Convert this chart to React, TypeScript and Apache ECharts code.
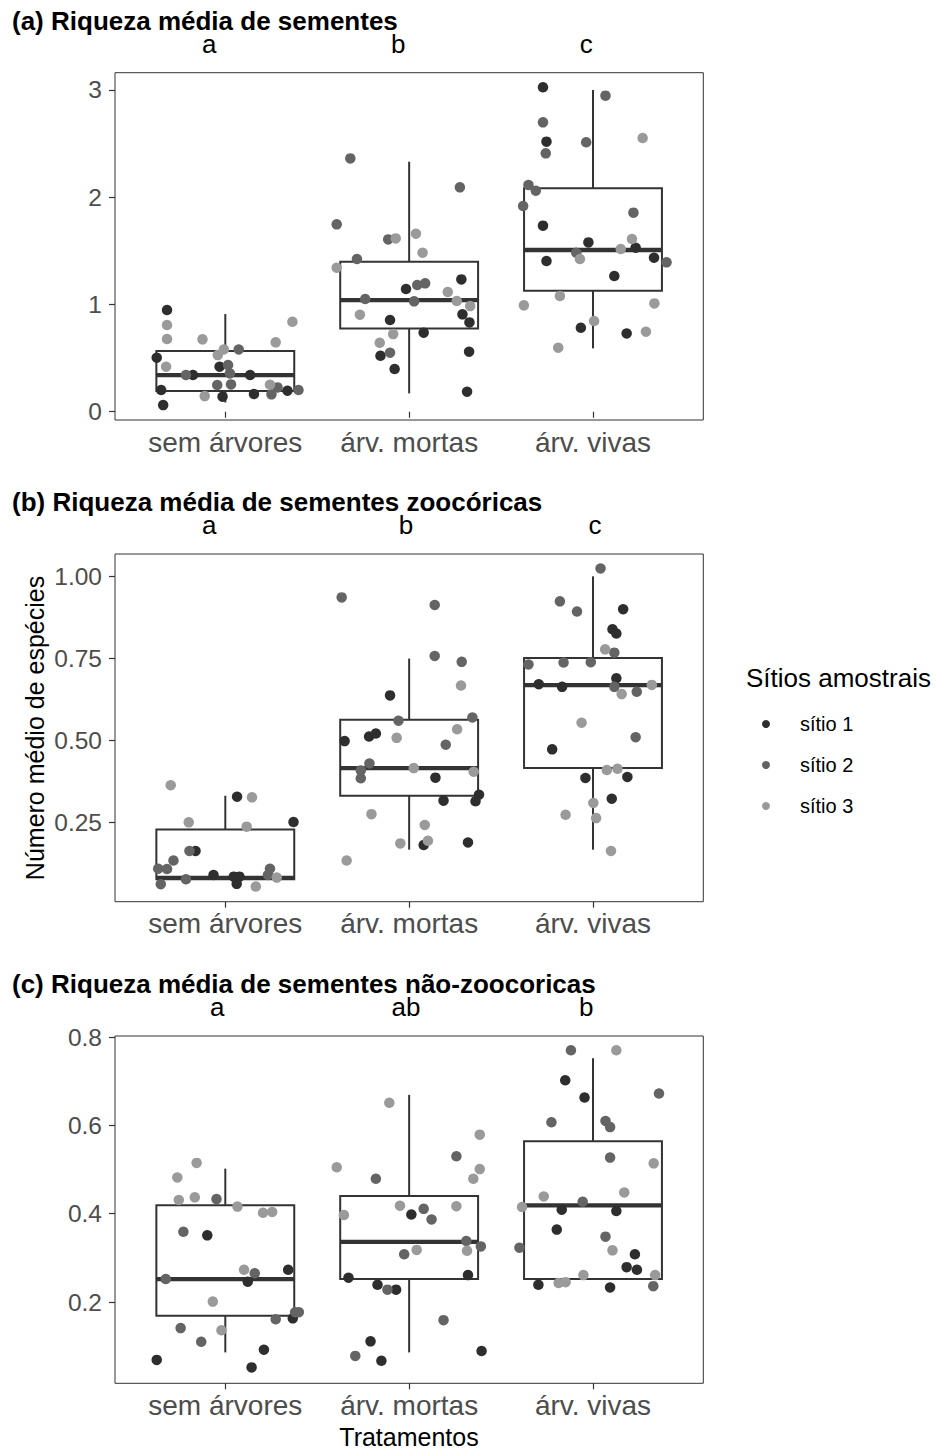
import { useEffect, useRef } from "react";
import * as echarts from "echarts";

// ---------- data ----------
const categories = ["sem árvores", "árv. mortas", "árv. vivas"];
const siteNames = ["sítio 1", "sítio 2", "sítio 3"];
const siteColors = ["#2e2e2e", "#646464", "#9a9a9a"];

const panelTitles = [
  "(a) Riqueza média de sementes",
  "(b) Riqueza média de sementes zoocóricas",
  "(c) Riqueza média de sementes não-zoocoricas",
];

const lettersA = ["a", "b", "c"];
const lettersB = ["a", "b", "c"];
const lettersC = ["a", "ab", "b"];

const ticksA = [0, 1, 2, 3];
const ticksB = [0.25, 0.5, 0.75, 1.0];
const ticksC = [0.2, 0.4, 0.6, 0.8];

// box stats: [category, lower whisker, q1, median, q3, upper whisker]
const boxA = [
  [1, 0.087, 0.193, 0.342, 0.566, 0.911],
  [2, 0.171, 0.777, 1.041, 1.399, 2.331],
  [3, 0.591, 1.128, 1.508, 2.083, 3.0],
];
const boxB = [
  [1, 0.078, 0.078, 0.082, 0.229, 0.332],
  [2, 0.168, 0.332, 0.416, 0.563, 0.749],
  [3, 0.168, 0.416, 0.668, 0.751, 0.999],
];
const boxC = [
  [1, 0.086, 0.169, 0.252, 0.419, 0.502],
  [2, 0.086, 0.252, 0.336, 0.44, 0.669],
  [3, 0.252, 0.252, 0.419, 0.564, 0.752],
];

// jittered points: [x (jittered category), value, site]
const pointsA = [
  [0.683, 0.948, 1], [0.683, 0.808, 3], [0.683, 0.678, 3], [0.876, 0.675, 3], [1.365, 0.839, 3],
  [1.274, 0.647, 3], [0.627, 0.504, 1], [0.678, 0.42, 3], [0.651, 0.202, 1], [0.662, 0.062, 1],
  [0.786, 0.342, 2], [0.824, 0.342, 1], [0.959, 0.528, 3], [0.992, 0.581, 3], [1.073, 0.581, 2],
  [0.969, 0.42, 1], [1.015, 0.435, 2], [1.025, 0.357, 2], [1.135, 0.342, 1], [0.956, 0.249, 2],
  [1.031, 0.255, 2], [0.888, 0.146, 3], [0.985, 0.14, 1], [1.156, 0.165, 1], [1.243, 0.252, 3],
  [1.284, 0.227, 2], [1.251, 0.162, 2], [1.338, 0.196, 1], [1.398, 0.202, 2],
  [1.68, 2.362, 2], [2.276, 2.092, 2], [1.606, 1.747, 2], [1.886, 1.607, 2], [1.927, 1.616, 3],
  [2.037, 1.66, 3], [2.073, 1.483, 3], [1.716, 1.424, 2], [1.606, 1.343, 3], [1.983, 1.144, 1],
  [2.044, 1.181, 2], [2.087, 1.197, 2], [2.284, 1.234, 1], [1.761, 1.051, 2], [2.027, 1.029, 2],
  [2.21, 1.116, 3], [2.259, 1.032, 3], [2.332, 0.985, 3], [1.732, 0.905, 3], [1.896, 0.855, 1],
  [2.29, 0.908, 1], [2.328, 0.833, 1], [2.079, 0.737, 1], [1.913, 0.724, 3], [1.84, 0.643, 3],
  [1.896, 0.55, 2], [1.844, 0.522, 1], [1.921, 0.398, 1], [2.326, 0.56, 1], [2.315, 0.187, 1],
  [2.728, 3.025, 1], [3.068, 2.947, 2], [2.728, 2.698, 2], [2.747, 2.518, 1], [2.743, 2.409, 2],
  [2.963, 2.512, 2], [3.27, 2.552, 3], [2.649, 2.114, 2], [2.689, 2.061, 2], [2.62, 1.918, 2],
  [3.22, 1.856, 2], [2.728, 1.735, 1], [2.975, 1.579, 1], [3.212, 1.61, 3], [3.151, 1.517, 3],
  [3.232, 1.529, 1], [2.909, 1.483, 2], [2.929, 1.424, 3], [2.747, 1.405, 1], [3.332, 1.436, 1],
  [3.4, 1.393, 2], [3.116, 1.265, 1], [2.82, 1.079, 3], [2.624, 0.992, 3], [3.334, 1.01, 3],
  [3.006, 0.846, 3], [2.934, 0.783, 1], [3.183, 0.73, 1], [3.288, 0.746, 3], [2.811, 0.597, 3],
];

const pointsB = [
  [0.703, 0.364, 3], [1.064, 0.329, 1], [1.145, 0.327, 3], [0.801, 0.251, 3], [1.116, 0.238, 3],
  [1.371, 0.252, 1], [0.838, 0.164, 1], [0.805, 0.164, 2], [0.718, 0.135, 2], [0.635, 0.11, 2],
  [0.683, 0.109, 2], [0.649, 0.063, 2], [0.786, 0.078, 2], [0.936, 0.091, 1], [1.046, 0.086, 1],
  [1.077, 0.086, 1], [1.062, 0.064, 1], [1.243, 0.11, 2], [1.232, 0.091, 2], [1.28, 0.083, 3],
  [1.166, 0.056, 3],
  [1.633, 0.935, 2], [2.139, 0.912, 2], [2.139, 0.757, 2], [2.286, 0.739, 2], [2.282, 0.667, 3],
  [1.896, 0.637, 1], [1.942, 0.56, 2], [2.344, 0.57, 2], [2.261, 0.534, 3], [1.649, 0.498, 1],
  [1.782, 0.512, 1], [1.819, 0.521, 1], [1.932, 0.508, 3], [2.199, 0.487, 2], [1.784, 0.43, 2],
  [1.737, 0.409, 2], [1.737, 0.385, 2], [2.025, 0.416, 3], [2.143, 0.387, 1], [2.351, 0.405, 3],
  [2.38, 0.335, 1], [2.361, 0.315, 1], [2.187, 0.317, 1], [1.795, 0.276, 3], [2.085, 0.243, 3],
  [2.102, 0.195, 3], [2.079, 0.182, 1], [1.952, 0.187, 3], [2.32, 0.19, 1], [1.66, 0.135, 3],
  [3.041, 1.023, 2], [2.82, 0.923, 2], [2.913, 0.892, 2], [3.164, 0.899, 1], [3.106, 0.838, 1],
  [3.127, 0.825, 1], [3.066, 0.777, 3], [3.116, 0.767, 2], [2.649, 0.731, 2], [2.84, 0.737, 2],
  [2.988, 0.738, 2], [3.127, 0.689, 1], [2.705, 0.671, 1], [2.832, 0.663, 1], [3.116, 0.663, 2],
  [3.156, 0.641, 3], [3.238, 0.648, 2], [3.32, 0.669, 3], [2.938, 0.554, 3], [3.232, 0.51, 2],
  [2.778, 0.473, 1], [2.959, 0.386, 1], [3.075, 0.41, 3], [3.133, 0.414, 3], [3.187, 0.389, 1],
  [3.102, 0.323, 1], [3.002, 0.31, 3], [2.851, 0.274, 3], [3.017, 0.264, 3], [3.098, 0.164, 3],
];

const pointsC = [
  [0.844, 0.515, 3], [0.739, 0.482, 3], [0.747, 0.431, 3], [0.834, 0.437, 3], [0.952, 0.433, 2],
  [1.066, 0.416, 3], [1.205, 0.402, 3], [1.255, 0.404, 3], [0.772, 0.359, 2], [0.902, 0.351, 1],
  [0.676, 0.252, 2], [1.102, 0.273, 3], [1.16, 0.265, 2], [1.122, 0.246, 1], [1.342, 0.273, 1],
  [0.932, 0.201, 3], [1.274, 0.161, 2], [1.367, 0.163, 1], [1.38, 0.177, 2], [1.4, 0.177, 2],
  [0.757, 0.141, 2], [0.979, 0.136, 3], [0.869, 0.11, 2], [1.21, 0.092, 1], [0.627, 0.069, 1],
  [1.143, 0.052, 1],
  [1.892, 0.651, 3], [2.384, 0.579, 3], [1.606, 0.505, 3], [2.257, 0.53, 2], [2.384, 0.501, 3],
  [2.349, 0.479, 3], [1.819, 0.479, 2], [1.95, 0.418, 3], [2.079, 0.411, 2], [2.257, 0.417, 3],
  [1.645, 0.397, 3], [2.012, 0.398, 1], [2.122, 0.387, 2], [2.311, 0.338, 2], [2.315, 0.316, 3],
  [2.39, 0.326, 2], [2.041, 0.318, 3], [1.973, 0.308, 2], [1.67, 0.255, 1], [2.32, 0.261, 1],
  [1.828, 0.239, 1], [1.882, 0.228, 2], [1.929, 0.228, 1], [2.187, 0.159, 2], [1.79, 0.111, 1],
  [1.707, 0.078, 2], [1.849, 0.067, 1], [2.394, 0.089, 1],
  [2.88, 0.77, 2], [3.127, 0.77, 3], [2.849, 0.702, 1], [2.954, 0.663, 1], [3.359, 0.672, 2],
  [2.774, 0.607, 2], [3.068, 0.61, 2], [3.093, 0.596, 2], [3.093, 0.527, 2], [3.33, 0.514, 3],
  [2.732, 0.439, 3], [3.17, 0.448, 3], [2.614, 0.415, 3], [2.944, 0.427, 2], [2.83, 0.409, 1],
  [3.127, 0.406, 1], [2.803, 0.364, 1], [3.068, 0.348, 2], [2.6, 0.323, 2], [3.106, 0.317, 3],
  [3.228, 0.308, 1], [3.183, 0.279, 1], [3.239, 0.273, 1], [2.948, 0.261, 3], [3.338, 0.261, 3],
  [2.703, 0.239, 1], [2.813, 0.243, 3], [2.851, 0.245, 3], [3.093, 0.233, 1], [3.328, 0.236, 2],
];

// ---------- layout ----------
const FONT = "'Liberation Sans', Arial, Helvetica, sans-serif";
const GRID_LEFT = 115;
const GRID_WIDTH = 588.3;
const GRID_TOPS = [72.7, 554, 1036];
const GRID_HEIGHTS = [347.3, 347.7, 347.3];
const Y_RANGES = [
  [-0.077, 3.161],
  [0.0098, 1.0669],
  [0.016, 0.8023],
];
const X_MIN = 0.4;
const X_MAX = 3.6;
const LETTER_X = [
  [0.912, 1.94, 2.963],
  [0.912, 1.983, 3.011],
  [0.956, 1.983, 2.963],
];

const panels = [
  { points: pointsA, boxes: boxA, ticks: ticksA, letters: lettersA, fmt: (v: number) => String(Math.round(v)) },
  { points: pointsB, boxes: boxB, ticks: ticksB, letters: lettersB, fmt: (v: number) => v.toFixed(2) },
  { points: pointsC, boxes: boxC, ticks: ticksC, letters: lettersC, fmt: (v: number) => v.toFixed(1) },
];

function boxRenderItem(params: any, api: any) {
  const x = api.value(0);
  const lo = api.value(1);
  const q1 = api.value(2);
  const md = api.value(3);
  const q3 = api.value(4);
  const hi = api.value(5);
  const hw = 0.375;
  const c = (xv: number, yv: number) => api.coord([xv, yv]);
  const stroke = "#333333";
  const pHi = c(x, hi);
  const pQ3 = c(x, q3);
  const pQ1 = c(x, q1);
  const pLo = c(x, lo);
  const tl = c(x - hw, q3);
  const br = c(x + hw, q1);
  const ml = c(x - hw, md);
  const mr = c(x + hw, md);
  return {
    type: "group",
    children: [
      { type: "line", shape: { x1: pHi[0], y1: pHi[1], x2: pQ3[0], y2: pQ3[1] }, style: { stroke, lineWidth: 2 } },
      { type: "line", shape: { x1: pQ1[0], y1: pQ1[1], x2: pLo[0], y2: pLo[1] }, style: { stroke, lineWidth: 2 } },
      {
        type: "rect",
        shape: { x: tl[0], y: tl[1], width: br[0] - tl[0], height: br[1] - tl[1] },
        style: { stroke, lineWidth: 2, fill: "#ffffff" },
      },
      { type: "line", shape: { x1: ml[0], y1: ml[1], x2: mr[0], y2: mr[1] }, style: { stroke, lineWidth: 4.3 } },
    ],
  };
}

function xPix(v: number) {
  return GRID_LEFT + ((v - X_MIN) / (X_MAX - X_MIN)) * GRID_WIDTH;
}

export default function App() {
  const ref = useRef<HTMLDivElement>(null);

  useEffect(() => {
    if (!ref.current) return;
    const chart = echarts.init(ref.current, undefined, { renderer: "svg" });

    const grids: any[] = [];
    const xAxes: any[] = [];
    const yAxes: any[] = [];
    const series: any[] = [];
    const graphics: any[] = [];

    panels.forEach((p, i) => {
      grids.push({
        left: GRID_LEFT,
        top: GRID_TOPS[i],
        width: GRID_WIDTH,
        height: GRID_HEIGHTS[i],
        show: true,
        borderColor: "#333333",
        borderWidth: 1,
        backgroundColor: "#ffffff",
        containLabel: false,
      });
      xAxes.push({
        type: "value",
        gridIndex: i,
        min: X_MIN,
        max: X_MAX,
        axisLine: { show: false },
        splitLine: { show: false },
        axisTick: {
          show: true,
          customValues: [1, 2, 3],
          length: 6,
          lineStyle: { color: "#333333", width: 1.2 },
        },
        axisLabel: {
          customValues: [1, 2, 3],
          formatter: (v: number) => categories[Math.round(v) - 1] ?? "",
          color: "#4d4d4d",
          fontSize: 28,
          fontFamily: FONT,
          margin: 8,
        },
      });
      yAxes.push({
        type: "value",
        gridIndex: i,
        min: Y_RANGES[i][0],
        max: Y_RANGES[i][1],
        axisLine: { show: false },
        splitLine: { show: false },
        axisTick: {
          show: true,
          customValues: p.ticks,
          length: 6,
          lineStyle: { color: "#333333", width: 1.2 },
        },
        axisLabel: {
          customValues: p.ticks,
          formatter: (v: number) => p.fmt(v),
          color: "#4d4d4d",
          fontSize: 24.5,
          fontFamily: FONT,
          margin: 13,
        },
      });
      series.push({
        type: "custom",
        name: "box" + i,
        xAxisIndex: i,
        yAxisIndex: i,
        renderItem: boxRenderItem,
        encode: { x: 0, y: [1, 2, 3, 4, 5] },
        data: p.boxes,
        z: 2,
        silent: true,
      });
      siteNames.forEach((name, s) => {
        series.push({
          type: "scatter",
          name,
          xAxisIndex: i,
          yAxisIndex: i,
          symbol: "circle",
          symbolSize: 10.5,
          itemStyle: { color: siteColors[s], opacity: 1 },
          data: p.points.filter((pt) => pt[2] === s + 1).map((pt) => [pt[0], pt[1]]),
          z: 3,
        });
      });

      const off = GRID_TOPS[i] - GRID_TOPS[0];
      graphics.push({
        type: "text",
        left: 12,
        top: 8 + off,
        style: { text: panelTitles[i], fontSize: 26, fontWeight: "bold", fontFamily: FONT, fill: "#000000" },
      });
      p.letters.forEach((l, k) => {
        graphics.push({
          type: "text",
          x: xPix(LETTER_X[i][k]),
          y: 44 + off,
          style: {
            text: l,
            fontSize: 26,
            fontFamily: FONT,
            fill: "#000000",
            align: "center",
            verticalAlign: "middle",
          },
        });
      });
    });

    graphics.push({
      type: "text",
      x: 35,
      y: 728,
      rotation: Math.PI / 2,
      style: {
        text: "Número médio de espécies",
        fontSize: 25,
        fontFamily: FONT,
        fill: "#000000",
        align: "center",
        verticalAlign: "middle",
      },
    });
    graphics.push({
      type: "text",
      x: 409,
      y: 1437,
      style: {
        text: "Tratamentos",
        fontSize: 25,
        fontFamily: FONT,
        fill: "#000000",
        align: "center",
        verticalAlign: "middle",
      },
    });
    graphics.push({
      type: "text",
      x: 746,
      y: 678,
      style: {
        text: "Sítios amostrais",
        fontSize: 26,
        fontFamily: FONT,
        fill: "#000000",
        align: "left",
        verticalAlign: "middle",
      },
    });

    chart.setOption({
      animation: false,
      backgroundColor: "#ffffff",
      grid: grids,
      xAxis: xAxes,
      yAxis: yAxes,
      series,
      graphic: graphics,
      legend: {
        data: siteNames,
        orient: "vertical",
        left: 757,
        top: 709,
        icon: "circle",
        itemWidth: 58,
        itemHeight: 8,
        itemGap: 21,
        selectedMode: false,
        textStyle: { fontSize: 20, fontFamily: FONT, color: "#000000" },
      },
    });

    return () => chart.dispose();
  }, []);

  return (
    <div
      ref={ref}
      style={{ position: "absolute", left: 0, top: 0, width: 936, height: 1451, background: "#ffffff" }}
    />
  );
}
